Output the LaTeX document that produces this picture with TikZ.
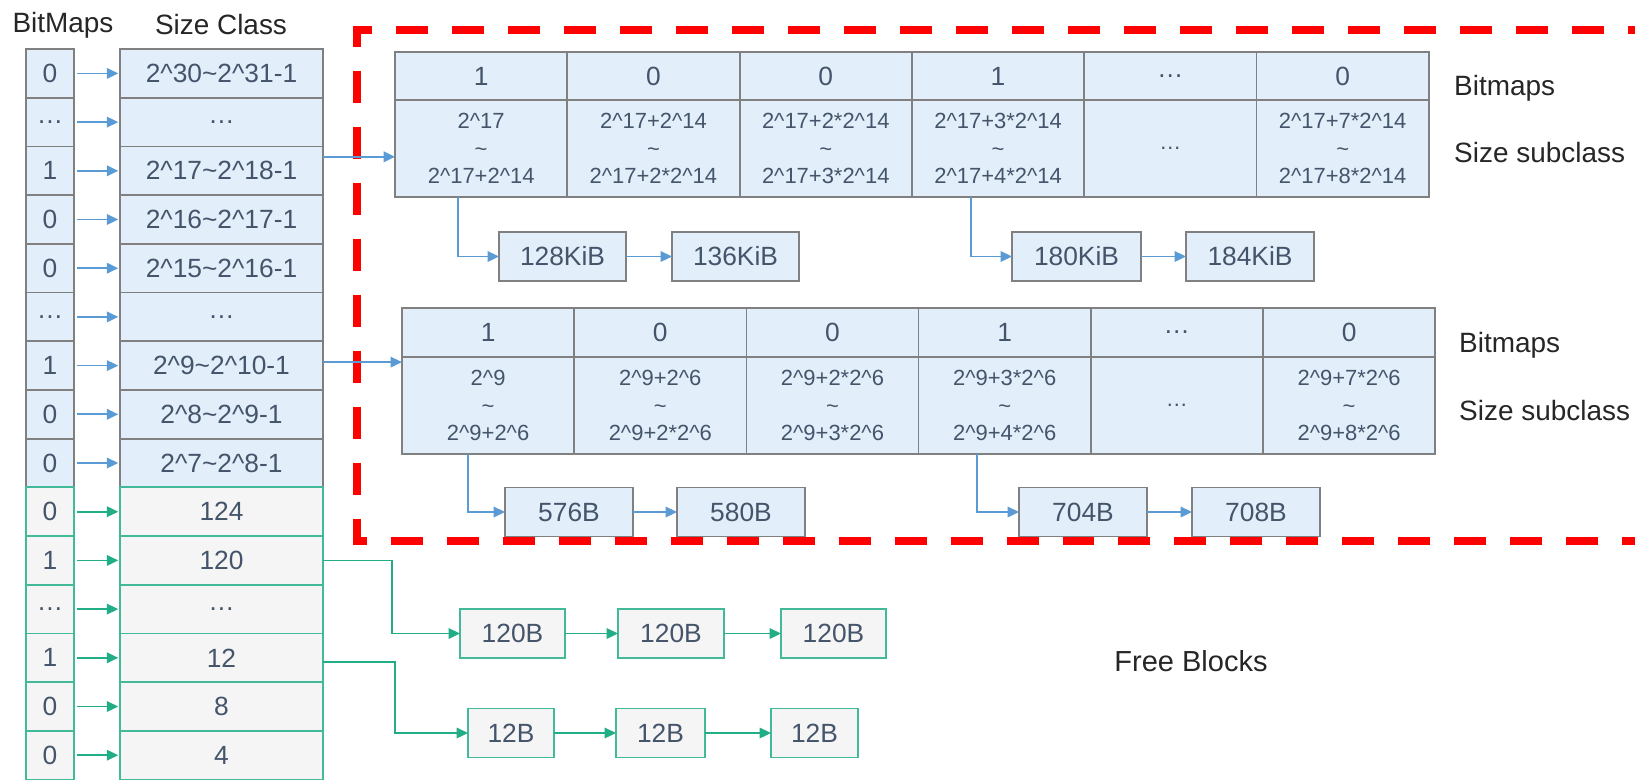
\documentclass[tikz,border=0pt]{standalone}
\usepackage{fontspec}
\setmainfont{Liberation Sans}
\usetikzlibrary{arrows.meta}
\definecolor{cellblue}{HTML}{E2EEF9}
\definecolor{cellgray}{HTML}{F5F5F5}
\definecolor{linegray}{HTML}{808080}
\definecolor{arrowblue}{HTML}{5B9BD5}
\definecolor{freegreen}{HTML}{21AE87}
\definecolor{celltext}{HTML}{44546A}
\definecolor{boxred}{HTML}{FF0000}
\newcommand{\crt}{\textasciicircum}
\newcommand{\tld}{\textasciitilde}
\newcommand{\rng}[2]{#1\\\tld\\#2}
\tikzset{
  cell/.style={draw=linegray, fill=cellblue, line width=1pt, inner sep=0pt, outer sep=0pt,
    text=celltext, font=\fontsize{15}{18}\selectfont},
  bitcell/.style={cell, minimum width=0.96cm, minimum height=0.974cm},
  classcell/.style={cell, minimum width=4.06cm, minimum height=0.974cm},
  greenbit/.style={bitcell, draw=freegreen!85, fill=cellgray},
  greenclass/.style={classcell, draw=freegreen!85, fill=cellgray},
  hdcell/.style={cell, minimum width=3.446cm, minimum height=0.97cm},
  subcell/.style={cell, minimum width=3.446cm, minimum height=1.94cm, align=center,
    font=\fontsize{12.5}{15.8}\selectfont},
  blk/.style={cell, minimum height=0.98cm},
  greenblk/.style={blk, draw=freegreen!85, fill=cellgray},
  lbl/.style={font=\fontsize{15.9}{19}\selectfont, text=black!85},
  barrow/.style={draw=arrowblue, line width=1pt, -{Triangle[length=6.5pt,width=6pt]}},
  garrow/.style={draw=freegreen, line width=1pt, -{Triangle[length=6.5pt,width=6pt]}},
  reddash/.style={draw=boxred, line width=4.5pt, dash pattern=on 0.64cm off 0.48cm}
}
\begin{document}
\begin{tikzpicture}[x=0.02cm, y=-0.02cm]
\useasboundingbox (0,0) rectangle (1635,779);
% column headers
\node[lbl] (hbit) at (63,25) {BitMaps};
\node[lbl] (hclass) at (221,25) {Size Class};
% size classes
\foreach \b/\s [count=\i from 0] in {0/2\crt30\tld2\crt31-1, …/…, 1/2\crt17\tld2\crt18-1,
    0/2\crt16\tld2\crt17-1, 0/2\crt15\tld2\crt16-1, …/…, 1/2\crt9\tld2\crt10-1,
    0/2\crt8\tld2\crt9-1, 0/2\crt7\tld2\crt8-1}{
  \node[bitcell] (b\i) at (50,{73.4+48.7*\i}) {\b};
  \node[classcell] (s\i) at (221.5,{73.4+48.7*\i}) {\s};
  \draw[barrow, shorten <=1.7pt, shorten >=1pt] (b\i.east) -- (s\i.west);
}
\foreach \b/\s [count=\i from 9] in {0/124, 1/120, …/…, 1/12, 0/8, 0/4}{
  \node[greenbit] (b\i) at (50,{73.4+48.7*\i}) {\b};
  \node[greenclass] (s\i) at (221.5,{73.4+48.7*\i}) {\s};
  \draw[garrow, shorten <=1.7pt, shorten >=1pt] (b\i.east) -- (s\i.west);
}
% red dashed region
\draw[reddash] (1660,30) -- (357,30) -- (357,541) -- (1660,541);
% upper subclass table
\foreach \t/\r [count=\j from 0] in {1/{\rng{2\crt17}{2\crt17+2\crt14}},
    0/{\rng{2\crt17+2\crt14}{2\crt17+2*2\crt14}}, 0/{\rng{2\crt17+2*2\crt14}{2\crt17+3*2\crt14}},
    1/{\rng{2\crt17+3*2\crt14}{2\crt17+4*2\crt14}}, …/…,
    0/{\rng{2\crt17+7*2\crt14}{2\crt17+8*2\crt14}}}{
  \node[hdcell] (ubit\j) at ({481.15+172.3*\j},76) {\t};
  \node[subcell] (usub\j) at ({481.15+172.3*\j},148.5) {\r};
}
\node[lbl, anchor=west] (ubitlbl) at (1448,88) {Bitmaps};
\node[lbl, anchor=west] (usublbl) at (1448,153) {Size subclass};
% lower subclass table
\foreach \t/\r [count=\j from 0] in {1/{\rng{2\crt9}{2\crt9+2\crt6}},
    0/{\rng{2\crt9+2\crt6}{2\crt9+2*2\crt6}}, 0/{\rng{2\crt9+2*2\crt6}{2\crt9+3*2\crt6}},
    1/{\rng{2\crt9+3*2\crt6}{2\crt9+4*2\crt6}}, …/…,
    0/{\rng{2\crt9+7*2\crt6}{2\crt9+8*2\crt6}}}{
  \node[hdcell, minimum height=0.98cm] (lbit\j) at ({488.1+172.2*\j},332.5) {\t};
  \node[subcell] (lsub\j) at ({488.1+172.2*\j},405.5) {\r};
}
\node[lbl, anchor=west] (lbitlbl) at (1453,345) {Bitmaps};
\node[lbl, anchor=west] (lsublbl) at (1453,410) {Size subclass};
% free lists of large classes
\node[blk, minimum width=2.54cm] (k128) at (562.5,256.5) {128KiB};
\node[blk, minimum width=2.54cm] (k136) at (735.5,256.5) {136KiB};
\node[blk, minimum width=2.58cm] (k180) at (1076.5,256.5) {180KiB};
\node[blk, minimum width=2.56cm] (k184) at (1250,256.5) {184KiB};
\node[blk, minimum width=2.56cm] (b576) at (569,512) {576B};
\node[blk, minimum width=2.56cm] (b580) at (741,512) {580B};
\node[blk, minimum width=2.56cm] (b704) at (1083,512) {704B};
\node[blk, minimum width=2.56cm] (b708) at (1256,512) {708B};
\draw[barrow] ([yshift=0.28cm]s2.east) -- ([yshift=0.28cm]s2.east -| usub0.west);
\draw[barrow] ([yshift=0.07cm]s6.east) -- ([yshift=0.07cm]s6.east -| lsub0.west);
\draw[barrow] ([xshift=-0.46cm]usub0.south) |- (k128.west);
\draw[barrow] (k128) -- (k136);
\draw[barrow] ([xshift=-0.54cm]usub3.south) |- (k180.west);
\draw[barrow] (k180) -- (k184);
\draw[barrow] ([xshift=-0.4cm]lsub0.south) |- (b576.west);
\draw[barrow] (b576) -- (b580);
\draw[barrow] ([xshift=-0.55cm]lsub3.south) |- (b704.west);
\draw[barrow] (b704) -- (b708);
% free blocks of small classes
\node[greenblk, minimum width=2.1cm] (f120a) at (512.5,633.5) {120B};
\node[greenblk, minimum width=2.12cm] (f120b) at (671,633.5) {120B};
\node[greenblk, minimum width=2.1cm] (f120c) at (833.5,633.5) {120B};
\node[greenblk, minimum width=1.72cm] (f12a) at (511,733) {12B};
\node[greenblk, minimum width=1.78cm] (f12b) at (660.5,733) {12B};
\node[greenblk, minimum width=1.74cm] (f12c) at (814.5,733) {12B};
\draw[garrow] (s10.east) -- ++(69,0) |- (f120a.west);
\draw[garrow] (f120a) -- (f120b);
\draw[garrow] (f120b) -- (f120c);
\draw[garrow] ([yshift=-0.08cm]s12.east) -- ++(72,0) |- (f12a.west);
\draw[garrow] (f12a) -- (f12b);
\draw[garrow] (f12b) -- (f12c);
\node[lbl, font=\fontsize{16.5}{20}\selectfont] (free) at (1191,661) {Free Blocks};
\end{tikzpicture}
\end{document}
